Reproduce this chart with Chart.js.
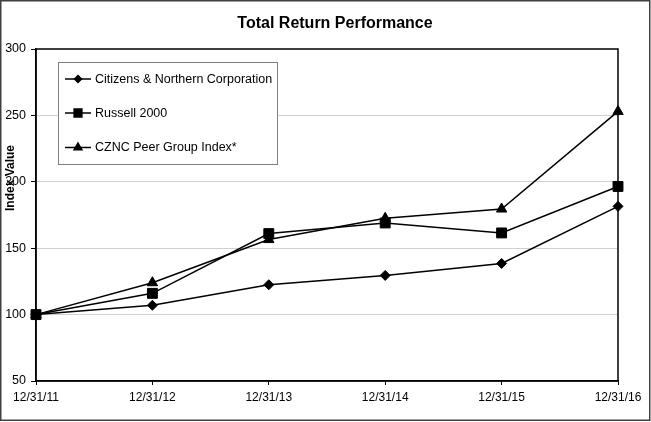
<!DOCTYPE html>
<html>
<head>
<meta charset="utf-8">
<script src="https://cdn.jsdelivr.net/npm/chart.js@4.4.1/dist/chart.umd.min.js"></script>
<style>
  html, body { margin: 0; padding: 0; background: #fff; }
  #wrap { width: 651px; height: 422px; position: relative; }
</style>
</head>
<body>
<div id="wrap"><canvas id="grafico" width="651" height="422"></canvas></div>
<script>
// dados
const datas = ['12/31/11', '12/31/12', '12/31/13', '12/31/14', '12/31/15', '12/31/16'];
const citizens = [100, 107, 122.5, 129.5, 138.5, 181.5];
const russell = [100, 116, 161, 169, 161.5, 196.5];
const peerGroup = [100, 124, 156.5, 172.5, 179.5, 253];
const nomesSeries = ['Citizens & Northern Corporation', 'Russell 2000', 'CZNC Peer Group Index*'];
const marcadores = ['rectRot', 'rect', 'triangle'];
const raios = [5, 7, 6];

const fonte = "'Liberation Sans', Arial, sans-serif";

// moldura, título, rótulo do eixo e legenda desenhados à mão
const extras = {
    id: 'extras',
    beforeDatasetsDraw(chart) {
        const { ctx, chartArea: a } = chart;
        ctx.save();
        ctx.strokeStyle = '#000';
        ctx.lineWidth = 1.5;
        ctx.strokeRect(a.left, a.top, a.right - a.left, a.bottom - a.top);
        ctx.restore();
    },
    afterDraw(chart) {
        const ctx = chart.ctx;
        ctx.save();

        // borda externa
        ctx.strokeStyle = '#404040';
        ctx.lineWidth = 1.5;
        ctx.strokeRect(0.75, 0.75, 649, 419.5);

        // título
        ctx.fillStyle = '#000';
        ctx.font = 'bold 16px ' + fonte;
        ctx.textAlign = 'center';
        ctx.textBaseline = 'middle';
        ctx.fillText('Total Return Performance', 335, 24);

        // título do eixo Y (fica por cima do 200, igual ao original)
        ctx.save();
        ctx.translate(11, 178);
        ctx.rotate(-Math.PI / 2);
        ctx.font = 'bold 12px ' + fonte;
        ctx.fillText('Index Value', 0, 0);
        ctx.restore();

        // caixa da legenda
        ctx.fillStyle = '#fff';
        ctx.fillRect(58, 62, 219, 102);
        ctx.strokeStyle = '#808080';
        ctx.lineWidth = 1;
        ctx.strokeRect(58.5, 62.5, 219, 102);

        const linhasY = [79, 113, 147.5];
        const raiosLegenda = [3.5, 5.5, 4.5];
        ctx.font = '12.5px ' + fonte;
        ctx.textAlign = 'left';
        ctx.textBaseline = 'middle';
        nomesSeries.forEach((nome, i) => {
            const y = linhasY[i];
            ctx.strokeStyle = '#000';
            ctx.lineWidth = 1.5;
            ctx.beginPath();
            ctx.moveTo(65, y);
            ctx.lineTo(91, y);
            ctx.stroke();
            ctx.fillStyle = '#000';
            Chart.helpers.drawPoint(ctx, { pointStyle: marcadores[i], radius: raiosLegenda[i], borderWidth: 1 }, 78, y);
            ctx.fillStyle = '#000';
            ctx.fillText(nome, 95, y + 0.5);
        });

        ctx.restore();
    }
};

const serieValores = [citizens, russell, peerGroup];

new Chart(document.getElementById('grafico'), {
    type: 'line',
    data: {
        labels: datas,
        datasets: serieValores.map((valores, i) => ({
            label: nomesSeries[i],
            data: valores,
            borderColor: '#000',
            borderWidth: 1.5,
            backgroundColor: '#000',
            pointStyle: marcadores[i],
            pointRadius: raios[i],
            pointBackgroundColor: '#000',
            pointBorderColor: '#000',
            pointBorderWidth: 1,
            tension: 0,
            fill: false
        }))
    },
    options: {
        responsive: false,
        animation: false,
        layout: { padding: { top: 49, right: 33, left: 0, bottom: 0 } },
        plugins: {
            legend: { display: false },
            title: { display: false },
            tooltip: { enabled: false }
        },
        scales: {
            x: {
                offset: false,
                afterFit(scale) { scale.height = 41; },
                grid: { drawOnChartArea: false, drawTicks: true, tickLength: 4, tickColor: '#000', tickWidth: 1 },
                border: { color: '#000', width: 1.5 },
                ticks: { color: '#000', font: { family: fonte, size: 12 }, padding: 5, maxRotation: 0, autoSkip: false }
            },
            y: {
                min: 50,
                max: 300,
                afterFit(scale) { scale.width = 36; },
                grid: {
                    color: (c) => (c.tick && (c.tick.value === 50 || c.tick.value === 300)) ? 'rgba(0,0,0,0)' : '#a0a0a0',
                    lineWidth: 1,
                    tickLength: 5,
                    tickColor: '#000',
                    tickWidth: 1,
                    tickBorderDash: []
                },
                border: { color: '#000', width: 1.5, dash: [1, 1] },
                ticks: { stepSize: 50, color: '#000', font: { family: fonte, size: 12.5 }, padding: 5 }
            }
        }
    },
    plugins: [extras]
});
</script>
</body>
</html>
